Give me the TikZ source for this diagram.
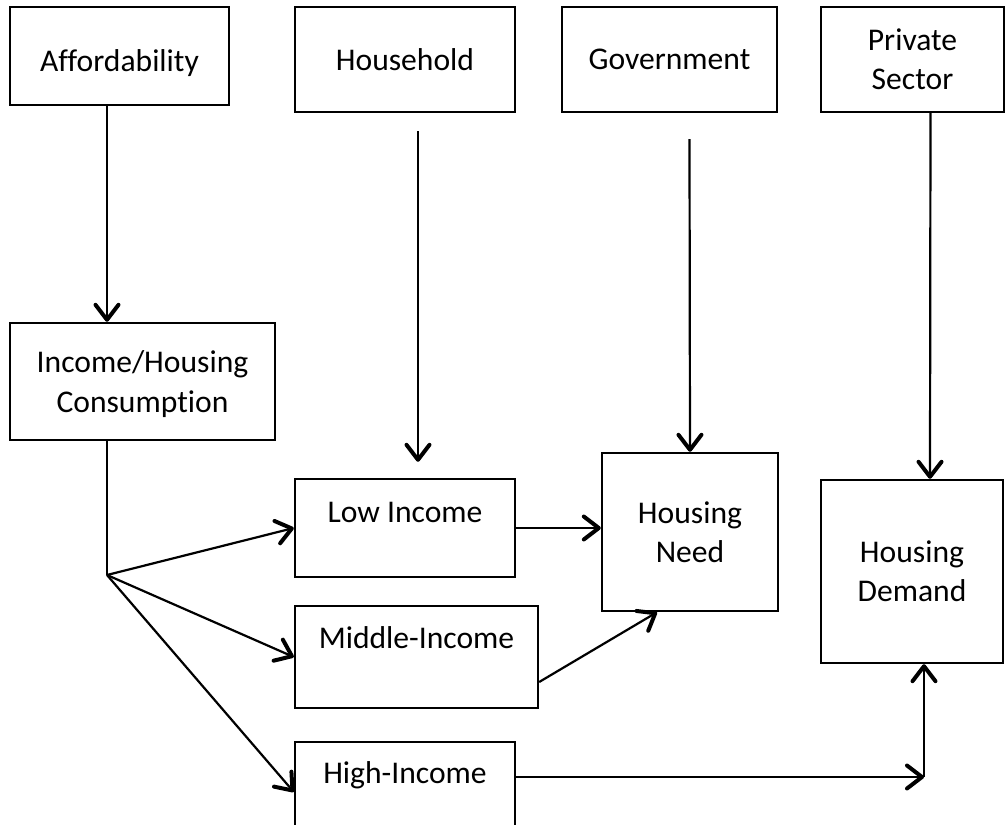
\documentclass[tikz,border=0pt]{standalone}
\usepackage{fontspec}
\setmainfont{Carlito}[Ligatures=NoCommon]
\usepackage{tikz}
\usetikzlibrary{arrows.meta}
\colorlet{boxline}{black}
\colorlet{flowline}{black}
\tikzset{
  box size/.style 2 args={minimum width=#1*0.5pt, minimum height=#2*0.5pt}
}

\begin{document}
\begin{tikzpicture}[
  x=0.5pt, y=-0.5pt,
  font=\fontsize{15.8}{19.6}\selectfont,
  box/.style={draw=boxline, line width=1.2pt, inner sep=0pt, align=center, text depth=0pt},
  lift/.style={text depth=#1},
  sink/.style={text height=#1},
  flow/.style={draw=flowline, line width=1.1pt, -{Straight Barb[length=7.5pt,width=11.5pt,line width=2pt,round]}},
  link/.style={draw=flowline, line width=1.1pt}
]
\useasboundingbox (0,0) rectangle (1008,825);
\clip (0,0) rectangle (1008,825);
\node[box, box size={219}{98}, sink=15pt] (afford) at (119.5,56) {Affordability};
\node[box, box size={220}{105}] (house) at (405,59.5) {Household};
\node[box, box size={215}{105}] (gov) at (669.5,59.5) {Government};
\node[box, box size={183}{105}, lift=-3.5pt] (priv) at (912.5,59.5) {Private\\Sector};
\node[box, box size={265}{117}] (income) at (142.5,381.5) {Income/Housing\\Consumption};
\node[box, box size={220}{98}, lift=16pt] (low) at (405,528) {Low Income};
\node[box, box size={243}{102}, lift=19pt] (mid) at (416.5,657) {Middle-Income};
\node[box, box size={220}{100}, lift=19pt] (high) at (405,792) {High-Income};
\node[box, box size={176}{158}] (need) at (690,532) {Housing\\Need};
\node[box, box size={182}{183}] (demand) at (912,571.5) {Housing\\Demand};
\coordinate (split) at (107,575);
\coordinate (corner) at (924,777);
\draw[flow] (afford.south -| split) -- (income.north -| split);
\draw[link] (income.south -| split) -- (split);
\foreach \dest in {low,mid,high}
  \draw[flow] (split) -- (\dest.west);
\draw[flow] ([shift={(13,18)}]house.south) -- ([shift={(13,-16)}]low.north);
\draw[flow] ([shift={(20,26)}]gov.south) -- (need.north);
\draw[flow] ([xshift=9pt]priv.south) -- ([xshift=9pt]demand.north);
\draw[flow] (low.east) -- (low.east -| need.west);
\draw[flow] ([shift={(0,25)}]mid.east) -- ([shift={(-33,0)}]need.south);
\draw[flow] (high.east |- corner) -- (corner);
\draw[flow] (corner) -- (corner |- demand.south);
\end{tikzpicture}
\end{document}
